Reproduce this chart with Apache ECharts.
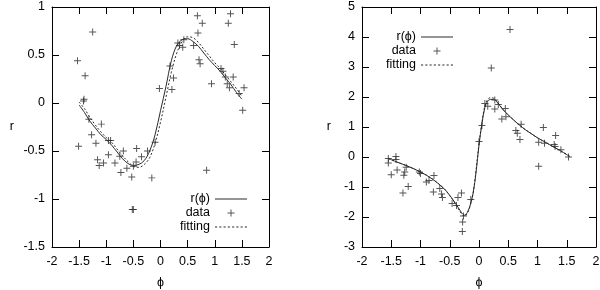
<!DOCTYPE html>
<html>
<head>
<meta charset="utf-8">
<script src="https://cdn.jsdelivr.net/npm/echarts@6/dist/echarts.min.js"></script>
<style>html,body{margin:0;padding:0;background:#fff}#c{width:600px;height:290px}</style>
</head>
<body>
<div id="c"></div>
<script>
// ---- Left panel data ----
var leftModel = [[-1.5,-0.02],[-1.4,-0.10],[-1.3,-0.19],[-1.2,-0.26],[-1.1,-0.33],[-1.0,-0.38],[-0.9,-0.44],[-0.8,-0.51],[-0.7,-0.58],[-0.6,-0.63],[-0.5,-0.65],[-0.4,-0.64],[-0.3,-0.60],[-0.2,-0.50],[-0.1,-0.33],[0.0,-0.08],[0.1,0.17],[0.2,0.44],[0.3,0.60],[0.4,0.66],[0.5,0.67],[0.6,0.64],[0.7,0.59],[0.8,0.52],[0.9,0.45],[1.0,0.39],[1.1,0.33],[1.2,0.26],[1.3,0.19],[1.4,0.11],[1.5,0.04]];
var leftFit = [[-1.5,0.01],[-1.4,-0.06],[-1.3,-0.15],[-1.2,-0.23],[-1.1,-0.30],[-1.0,-0.36],[-0.9,-0.41],[-0.8,-0.48],[-0.7,-0.55],[-0.6,-0.61],[-0.5,-0.66],[-0.4,-0.67],[-0.3,-0.64],[-0.2,-0.57],[-0.1,-0.42],[0.0,-0.20],[0.1,0.06],[0.2,0.32],[0.3,0.52],[0.4,0.64],[0.5,0.69],[0.6,0.68],[0.7,0.63],[0.8,0.56],[0.9,0.49],[1.0,0.42],[1.1,0.36],[1.2,0.29],[1.3,0.22],[1.4,0.15],[1.5,0.07]];
var leftPoints = [[-1.53,0.44],[-1.25,0.74],[-1.39,0.285],[-1.41,0.04],[-1.42,0.02],[-1.32,-0.17],[-1.09,-0.22],[-1.51,-0.45],[-1.27,-0.33],[-1.19,-0.42],[-1.16,-0.59],[-1.13,-0.65],[-1.05,-0.625],[-0.96,-0.39],[-0.92,-0.39],[-0.96,-0.54],[-0.84,-0.625],[-0.75,-0.555],[-0.685,-0.50],[-0.73,-0.725],[-0.62,-0.68],[-0.53,-0.77],[-0.52,-1.11],[-0.50,-1.11],[-0.44,-0.475],[-0.45,-0.615],[-0.50,-0.66],[-0.35,-0.56],[-0.24,-0.50],[-0.16,-0.78],[-0.10,-0.41],[0.85,-0.70],[-0.02,0.15],[0.21,0.14],[0.175,0.385],[0.24,0.26],[0.32,0.625],[0.35,0.60],[0.41,0.58],[0.43,0.66],[0.61,0.60],[0.68,0.91],[0.77,0.83],[0.69,0.73],[0.71,0.45],[0.73,0.41],[0.94,0.20],[1.115,0.36],[1.15,0.33],[1.195,0.27],[1.23,0.20],[1.27,0.16],[1.34,0.27],[1.29,0.93],[1.25,0.83],[1.36,0.61],[1.45,0.10],[1.54,0.16],[1.515,-0.076]];

// ---- Right panel data ----
var rightModel = [[-1.55,-0.05],[-1.4,-0.17],[-1.2,-0.32],[-1.0,-0.50],[-0.8,-0.73],[-0.6,-1.05],[-0.5,-1.28],[-0.4,-1.55],[-0.3,-1.85],[-0.25,-1.94],[-0.2,-1.85],[-0.15,-1.6],[-0.1,-1.2],[-0.05,-0.5],[0.0,0.4],[0.05,1.1],[0.1,1.65],[0.15,1.86],[0.2,1.92],[0.25,1.92],[0.3,1.85],[0.4,1.6],[0.5,1.40],[0.6,1.22],[0.7,1.05],[0.8,0.90],[0.9,0.77],[1.0,0.64],[1.1,0.53],[1.2,0.42],[1.3,0.31],[1.4,0.20],[1.55,0.02]];
var rightFit = [[-1.55,-0.05],[-1.4,-0.17],[-1.2,-0.32],[-1.0,-0.50],[-0.8,-0.73],[-0.6,-1.05],[-0.5,-1.29],[-0.4,-1.57],[-0.3,-1.89],[-0.25,-1.98],[-0.2,-1.88],[-0.15,-1.62],[-0.1,-1.2],[-0.05,-0.45],[0.0,0.45],[0.05,1.15],[0.1,1.70],[0.15,1.92],[0.2,1.98],[0.25,1.96],[0.3,1.87],[0.4,1.61],[0.5,1.40],[0.6,1.22],[0.7,1.05],[0.8,0.90],[0.9,0.77],[1.0,0.64],[1.1,0.53],[1.2,0.42],[1.3,0.31],[1.4,0.20],[1.55,0.02]];
var rightPoints = [[-1.55,-0.05],[-1.55,-0.2],[-1.42,0.02],[-1.42,-0.08],[-1.50,-0.59],[-1.40,-0.43],[-1.30,-1.2],[-1.285,-0.61],[-1.27,-0.50],[-1.245,-0.34],[-1.21,-0.98],[-1.02,-0.5],[-1.0,-0.55],[-0.90,-0.83],[-0.855,-0.78],[-0.77,-0.62],[-0.78,-1.17],[-0.67,-1.05],[-0.64,-1.23],[-0.625,-1.35],[-0.46,-1.55],[-0.385,-1.62],[-0.36,-1.35],[-0.30,-1.2],[-0.265,-1.97],[-0.28,-2.17],[-0.285,-2.48],[-0.14,-1.42],[0.0,0.52],[0.05,1.05],[0.10,1.78],[0.15,1.69],[0.27,1.90],[0.27,1.60],[0.33,1.75],[0.45,1.62],[0.39,1.27],[0.46,1.34],[0.21,2.97],[0.53,4.25],[0.63,0.88],[0.655,0.79],[0.70,0.58],[0.72,1.09],[1.02,-0.31],[1.02,0.49],[1.10,0.98],[1.12,0.46],[1.31,0.72],[1.285,0.42],[1.30,0.35],[1.40,0.24],[1.53,0.0]];

var legendNames = ['r(\u03d5)', 'data', 'fitting'];
var xName = '\u03d5';
var yName = 'r';

var FONT = '"Liberation Sans", Arial, Helvetica, sans-serif';
var FS = 12.5;
var PLUS = 'path://M-0.14,-1H0.14V1H-0.14ZM-1,-0.14H1V0.14H-1Z';
var SOLID_ICON = 'path://M0,0H32V1H0Z';
var DASH_ICON = 'path://M0,0H2V1H0ZM4,0H6V1H4ZM8,0H10V1H8ZM12,0H14V1H12ZM16,0H18V1H16ZM20,0H22V1H20ZM24,0H26V1H24ZM28,0H30V1H28Z';
var INK = '#2a2a2a';

function xAx(grid, pos, labels, name, gap) {
  return {
    type: 'value', gridIndex: grid, position: pos, min: -2, max: 2, interval: 0.5,
    axisLine: {show: true, onZero: false, lineStyle: {color: '#000', width: 1}},
    axisTick: {show: true, inside: true, length: 7, lineStyle: {color: '#000'}},
    axisLabel: {show: labels, margin: 8, color: '#000', fontSize: FS, fontFamily: FONT},
    splitLine: {show: false},
    name: labels ? name : '', nameLocation: 'middle', nameGap: gap,
    nameTextStyle: {color: '#000', fontSize: FS, fontFamily: FONT}
  };
}
function yAx(grid, pos, labels, mn, mx, iv, gap) {
  return {
    type: 'value', gridIndex: grid, position: pos, min: mn, max: mx, interval: iv,
    axisLine: {show: true, onZero: false, lineStyle: {color: '#000', width: 1}},
    axisTick: {show: true, inside: true, length: 7, lineStyle: {color: '#000'}},
    axisLabel: {show: labels, margin: 7, color: '#000', fontSize: FS, fontFamily: FONT},
    splitLine: {show: false},
    name: labels ? yName : '', nameLocation: 'middle', nameGap: gap, nameRotate: 0,
    nameTextStyle: {color: '#000', fontSize: FS, fontFamily: FONT}
  };
}
function lineSeries(name, data, xi, yi, dashed) {
  return {
    name: name, type: 'line', data: data, xAxisIndex: xi, yAxisIndex: yi,
    symbol: 'none', smooth: 0.35, silent: true,
    lineStyle: {color: INK, width: 1, type: dashed ? [2, 2] : 'solid'},
    itemStyle: {color: INK}
  };
}
function scatterSeries(name, data, xi, yi) {
  return {
    name: name, type: 'scatter', data: data, xAxisIndex: xi, yAxisIndex: yi,
    symbol: PLUS, symbolSize: 7, silent: true,
    itemStyle: {color: INK}
  };
}
function legend(right, top) {
  return {
    orient: 'vertical', right: right, top: top, align: 'right',
    itemWidth: 32, itemHeight: 7, itemGap: 0, padding: 0,
    selectedMode: false,
    data: [
      {name: legendNames[0], icon: SOLID_ICON},
      {name: legendNames[1], icon: PLUS},
      {name: legendNames[2], icon: DASH_ICON}
    ],
    textStyle: {color: '#000', fontSize: FS, fontFamily: FONT, lineHeight: 14}
  };
}

var chart = echarts.init(document.getElementById('c'), null, {renderer: 'canvas'});
chart.setOption({
  animation: false,
  backgroundColor: '#fff',
  grid: [
    {left: 52, top: 7, width: 217, height: 240, containLabel: false, outerBoundsMode: 'none'},
    {left: 362, top: 7, width: 234, height: 240, containLabel: false, outerBoundsMode: 'none'}
  ],
  xAxis: [
    xAx(0, 'bottom', true, xName, 29), xAx(0, 'top', false, '', 0),
    xAx(1, 'bottom', true, xName, 29), xAx(1, 'top', false, '', 0)
  ],
  yAxis: [
    yAx(0, 'left', true, -1.5, 1, 0.5, 38), yAx(0, 'right', false, -1.5, 1, 0.5, 0),
    yAx(1, 'left', true, -3, 5, 1, 31), yAx(1, 'right', false, -3, 5, 1, 0)
  ],
  legend: [legend(353, 192), legend(147, 30)],
  series: [
    lineSeries(legendNames[0], leftModel, 0, 0, false),
    scatterSeries(legendNames[1], leftPoints, 0, 0),
    lineSeries(legendNames[2], leftFit, 0, 0, true),
    lineSeries(legendNames[0], rightModel, 2, 2, false),
    scatterSeries(legendNames[1], rightPoints, 2, 2),
    lineSeries(legendNames[2], rightFit, 2, 2, true)
  ]
});
</script>
</body>
</html>
